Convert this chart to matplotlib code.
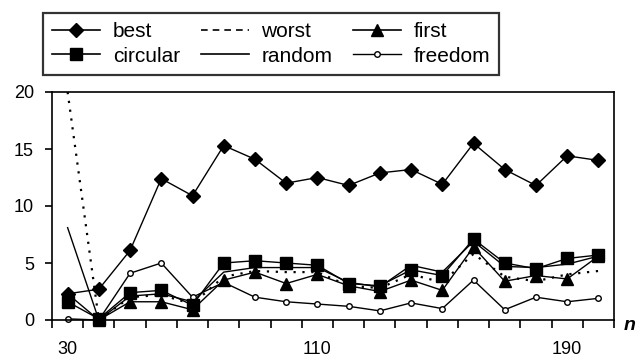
import numpy as np
import matplotlib.pyplot as plt
from matplotlib.lines import Line2D

n = [30, 40, 50, 60, 70, 80, 90, 100, 110, 120, 130, 140, 150, 160, 170, 180, 190, 200]
best = [2.3, 2.7, 6.1, 12.4, 10.9, 15.3, 14.1, 12.0, 12.5, 11.8, 12.9, 13.2, 11.9, 15.5, 13.2, 11.8, 14.4, 14.0]
circular = [1.6, 0.1, 2.4, 2.6, 1.3, 5.0, 5.2, 5.0, 4.8, 3.2, 3.0, 4.4, 3.9, 7.1, 5.0, 4.5, 5.4, 5.7]
first = [2.3, 0.0, 1.6, 1.6, 0.9, 3.5, 4.2, 3.2, 4.0, 3.0, 2.5, 3.5, 2.6, 6.4, 3.4, 3.9, 3.6, 5.6]
worst = [20.0, 0.0, 2.0, 2.2, 1.4, 3.8, 4.3, 4.2, 4.2, 3.0, 2.8, 4.0, 3.3, 5.8, 3.8, 3.4, 4.0, 4.3]
random_ = [8.1, 0.0, 2.1, 2.3, 1.6, 4.2, 4.6, 4.6, 4.6, 3.3, 2.9, 4.8, 4.2, 6.9, 4.7, 4.6, 4.9, 5.6]
freedom = [0.1, 0.0, 4.1, 5.0, 2.0, 3.3, 2.0, 1.6, 1.4, 1.2, 0.8, 1.5, 1.0, 3.5, 0.9, 2.0, 1.6, 1.9]

plt.rcParams['font.family'] = ['Liberation Sans', 'DejaVu Sans']

fig = plt.figure(figsize=(6.38, 3.6), dpi=100)
ax = fig.add_axes([52/638, 40/360, 562/638, 228/360])

kw = dict(color='black', lw=1.0, clip_on=False)
ax.plot(n, worst, ls=(0, (1, 3)), lw=1.6, color='black', clip_on=False)
ax.plot(n, random_, ls='-', **kw)
ax.plot(n, freedom, marker='o', ms=4, mfc='white', mec='black', mew=1.0, **kw)
ax.plot(n, first, marker='^', ms=8, **kw)
ax.plot(n, circular, marker='s', ms=8, **kw)
ax.plot(n, best, marker='D', ms=7, **kw)

ax.set_xlim(25, 205)
ax.set_ylim(0, 20)
ax.set_yticks([0, 5, 10, 15, 20])
ax.set_xticks(np.arange(25, 206, 10))
ax.set_xticklabels([])
ax.set_xticks([30, 110, 190], ['30', '110', '190'], minor=True)
ax.tick_params(axis='x', which='major', direction='out', length=6, width=1.2)
ax.tick_params(axis='x', which='minor', length=0, pad=15, labelsize=13)
ax.tick_params(axis='y', direction='out', length=5, width=1.2, pad=8, labelsize=13)
for s in ax.spines.values():
    s.set_linewidth(1.2)

# axis name, sitting at the right end of the x axis
fig.text(624/638, 34/360, 'n', fontsize=14, fontweight='bold', style='italic', va='center', ha='left')

handles = [
    Line2D([], [], color='black', lw=1.2, marker='D', ms=7),
    Line2D([], [], color='black', lw=1.2, marker='s', ms=8),
    Line2D([], [], color='black', lw=1.2, ls=(0, (4, 3))),
    Line2D([], [], color='black', lw=1.2),
    Line2D([], [], color='black', lw=1.2, marker='^', ms=8),
    Line2D([], [], color='black', lw=1.0, marker='o', ms=4, mfc='white'),
]
labels = ['best', 'circular', 'worst', 'random', 'first', 'freedom']
leg = fig.legend(handles, labels, ncol=3, loc='upper left', bbox_to_anchor=(43/638, 1 - 13/360),
                 frameon=True, fancybox=False, edgecolor='black', fontsize=15,
                 handlelength=2.3, handletextpad=0.6, columnspacing=1.0,
                 labelspacing=0.25, borderpad=0.45, borderaxespad=0)
leg.get_frame().set_linewidth(1.6)

fig.savefig('out.png', dpi=100)
